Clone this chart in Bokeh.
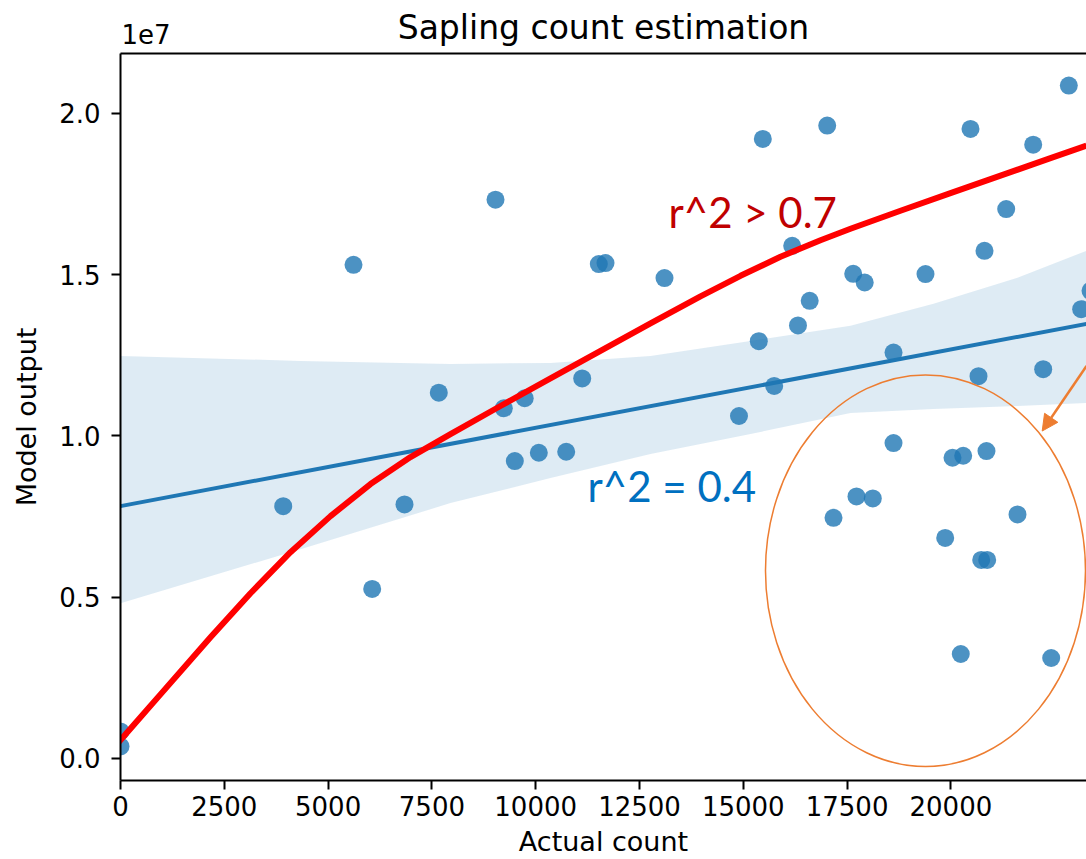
from bokeh.plotting import figure
from bokeh.models import (FixedTicker, CustomJSTickFormatter, LinearAxis, Label,
                          Arrow, NormalHead, Range1d)
from bokeh.embed import file_html
from bokeh.resources import INLINE

# ---------------- data ----------------
chart_title = "Sapling count estimation"
x_label = "Actual count"
y_label = "Model output"
exp_label = "1e7"

actual_count = [0, 0, 3919, 5612, 6062, 6840, 7666, 9032, 9232, 9735, 9497, 10075,
                10735, 11120, 11520, 11681, 13102, 14896, 15373, 15470, 15744, 16178,
                16317, 16599, 17021, 17647, 17924, 18618, 18618, 19388, 20472, 20665,
                20809, 21332, 21982, 22223, 22840, 23138, 23362,
                17173, 17726, 18119, 19863, 20039, 20296, 20857, 20730, 20874, 21604,
                20238, 22416]
model_output = [838000, 372000, 7822000, 15303000, 5255000, 7875000, 11340000, 17321000,
                10855000, 11166000, 9219000, 9477000, 9508000, 11780000, 15325000,
                15356000, 14890000, 10616000, 12935000, 19205000, 11547000, 15893000,
                13425000, 14186000, 19618000, 15024000, 14754000, 12581000, 9778000,
                15015000, 19516000, 11852000, 15738000, 17032000, 19028000, 12069000,
                20860000, 13928000, 14496000,
                7459000, 8124000, 8062000, 6838000, 9322000, 9384000, 9530000, 6156000,
                6156000, 7565000, 3238000, 3114000]

# linear fit shown by seaborn
reg_x = [0, 23500]
reg_y = [7822000, 13529000]

# confidence band
band_x = [0, 4335, 7948, 10356, 12765, 15173, 17582, 19581, 21604, 23266]
band_upper = [12479000, 12324000, 12230000, 12261000, 12479000, 12944000, 13410000,
              14093000, 14900000, 15738000]
band_lower = [4811000, 6488000, 7916000, 8692000, 9437000, 10057000, 10709000,
              10833000, 10927000, 11020000]

# hand drawn red curve
curve_x = [-72, 963, 2168, 3131, 4094, 5058, 6021, 6985, 7948, 9152, 10356, 11561,
           12765, 13969, 14933, 15896, 16859, 17582, 18786, 19990, 21195, 22399, 23266]
curve_y = [466000, 1987000, 3756000, 5122000, 6395000, 7512000, 8506000, 9344000,
           10057000, 10926000, 11780000, 12634000, 13487000, 14326000, 14962000,
           15552000, 16064000, 16421000, 16980000, 17523000, 18067000, 18610000,
           18998000]

# annotations
note_red = "r^2 > 0.7"
note_blue = "r^2 = 0.4"
note_red_pos = (13198, 16927000)
note_blue_pos = (11248, 8443000)
ellipse_center = (19388, 5820000)
ellipse_size = (7707, 12137000)
arrow_from = (23266, 12168000)
arrow_to = (22199, 10150000)

x_ticks = [0, 2500, 5000, 7500, 10000, 12500, 15000, 17500, 20000]
y_ticks = [0, 5000000, 10000000, 15000000, 20000000]
exp_tick = 614   # where the offset text "1e7" sits above the frame

x_min, x_max = 0, 23266
y_min, y_max = -683000, 21853000

# ---------------- figure ----------------
FONT = "DejaVu Sans"
p = figure(width=1086, height=859, output_backend="svg", toolbar_location=None,
           x_range=Range1d(x_min, x_max), y_range=Range1d(y_min, y_max),
           min_border_left=120, min_border_right=0, min_border_top=53,
           min_border_bottom=60)
p.outline_line_color = None
p.grid.visible = False
p.background_fill_color = "white"

for ax in (p.xaxis[0], p.yaxis[0]):
    ax.axis_line_width = 2
    ax.axis_line_color = "#000000"
    ax.major_tick_line_width = 2
    ax.major_tick_line_color = "#000000"
    ax.major_tick_out = 9
    ax.major_tick_in = 0
    ax.minor_tick_line_color = None
    ax.major_label_text_font = FONT
    ax.major_label_text_font_size = "26px"
    ax.major_label_text_color = "#000000"
    ax.axis_label_text_font = FONT
    ax.axis_label_text_font_size = "27px"
    ax.axis_label_text_font_style = "normal"
    ax.axis_label_text_color = "#000000"

p.xaxis.ticker = FixedTicker(ticks=x_ticks)
p.yaxis.ticker = FixedTicker(ticks=y_ticks)
p.yaxis.formatter = CustomJSTickFormatter(code="return (tick/1e7).toFixed(1);")
p.xaxis.axis_label = x_label
p.yaxis.axis_label = y_label
p.xaxis.major_label_standoff = 6
p.xaxis.axis_label_standoff = 7
p.yaxis.major_label_standoff = 11
p.yaxis.axis_label_standoff = 14

# top spine carrying the offset text and the chart title
top = LinearAxis(ticker=FixedTicker(ticks=[exp_tick]),
                 major_label_overrides={exp_tick: exp_label},
                 axis_line_width=2, axis_line_color="#000000",
                 major_tick_out=0, major_tick_in=0, major_tick_line_color=None,
                 minor_tick_line_color=None,
                 major_label_text_font=FONT, major_label_text_font_size="26px",
                 major_label_text_color="#000000", major_label_standoff=10,
                 axis_label=chart_title, axis_label_text_font=FONT,
                 axis_label_text_font_size="33px", axis_label_text_font_style="normal",
                 axis_label_text_color="#000000", axis_label_standoff=-26)
p.add_layout(top, "above")

# scatter, band, fit
p.scatter(actual_count, model_output, size=18, fill_color="#1f77b4", fill_alpha=0.8,
          line_color=None)
p.varea(x=band_x, y1=band_lower, y2=band_upper, fill_color="#1f77b4", fill_alpha=0.15)
p.line(reg_x, reg_y, line_color="#1f77b4", line_width=4)

# red curve
p.line(curve_x, curve_y, line_color="#FF0000", line_width=6, line_join="round")

# ellipse and arrow
p.ellipse(x=[ellipse_center[0]], y=[ellipse_center[1]], width=[ellipse_size[0]],
          height=[ellipse_size[1]], fill_color=None, line_color="#ED7D31",
          line_width=1.5)
p.add_layout(Arrow(end=NormalHead(size=16, fill_color="#ED7D31", line_color="#ED7D31"),
                   x_start=arrow_from[0], y_start=arrow_from[1],
                   x_end=arrow_to[0], y_end=arrow_to[1],
                   line_color="#ED7D31", line_width=2.5))

# texts
p.add_layout(Label(x=note_red_pos[0], y=note_red_pos[1], text=note_red,
                   text_font="Lato", text_font_size="42px", text_color="#C00000",
                   text_baseline="alphabetic"))
p.add_layout(Label(x=note_blue_pos[0], y=note_blue_pos[1], text=note_blue,
                   text_font="Lato", text_font_size="42px", text_color="#0070C0",
                   text_baseline="alphabetic"))

open("out.html", "w").write(file_html(p, INLINE))
